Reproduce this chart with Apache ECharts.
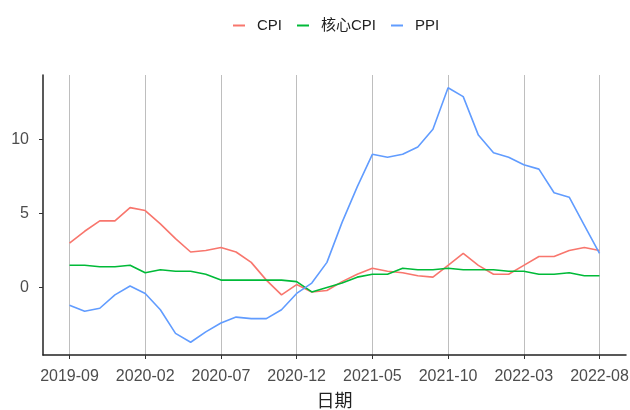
<!DOCTYPE html>
<html>
<head>
<meta charset="utf-8">
<script src="https://cdn.jsdelivr.net/npm/echarts@6/dist/echarts.min.js"></script>
<style>
html,body{margin:0;padding:0;background:#fff;}
#chart{width:630px;height:410px;}
</style>
</head>
<body>
<div id="chart"></div>
<script>
const dates = ['2019-09','2019-10','2019-11','2019-12','2020-01','2020-02','2020-03','2020-04','2020-05','2020-06','2020-07','2020-08','2020-09','2020-10','2020-11','2020-12','2021-01','2021-02','2021-03','2021-04','2021-05','2021-06','2021-07','2021-08','2021-09','2021-10','2021-11','2021-12','2022-01','2022-02','2022-03','2022-04','2022-05','2022-06','2022-07','2022-08'];
const cpi = [3.0,3.8,4.5,4.5,5.4,5.2,4.3,3.3,2.4,2.5,2.7,2.4,1.7,0.5,-0.5,0.2,-0.3,-0.2,0.4,0.9,1.3,1.1,1.0,0.8,0.7,1.5,2.3,1.5,0.9,0.9,1.5,2.1,2.1,2.5,2.7,2.5];
const coreCpi = [1.5,1.5,1.4,1.4,1.5,1.0,1.2,1.1,1.1,0.9,0.5,0.5,0.5,0.5,0.5,0.4,-0.3,0.0,0.3,0.7,0.9,0.9,1.3,1.2,1.2,1.3,1.2,1.2,1.2,1.1,1.1,0.9,0.9,1.0,0.8,0.8];
const ppi = [-1.2,-1.6,-1.4,-0.5,0.1,-0.4,-1.5,-3.1,-3.7,-3.0,-2.4,-2.0,-2.1,-2.1,-1.5,-0.4,0.3,1.7,4.4,6.8,9.0,8.8,9.0,9.5,10.7,13.5,12.9,10.3,9.1,8.8,8.3,8.0,6.4,6.1,4.2,2.3];
const tickLabels = ['2019-09','2020-02','2020-07','2020-12','2021-05','2021-10','2022-03','2022-08'];
const yTicks = [0,5,10];
const seriesNames = ['CPI','核心CPI','PPI'];
const colors = ['#F8766D','#00BA38','#619CFF'];

const allVals = cpi.concat(coreCpi, ppi);
const vMin = Math.min(...allVals), vMax = Math.max(...allVals);
const yPad = (vMax - vMin) * 0.05;
const n = dates.length;
const xPad = (n - 1) * 0.05;
const tickIdx = tickLabels.map(l => dates.indexOf(l));

const chart = echarts.init(document.getElementById('chart'));
const fontFam = '"Liberation Sans", Arial, "Noto Sans CJK SC", sans-serif';
const mk = (name, arr, c) => ({
  name: name, type: 'line', showSymbol: false, symbol: 'none',
  data: arr.map((v, i) => [i, v]),
  lineStyle: {width: 1.6, color: c}, itemStyle: {color: c}
});
chart.setOption({
  animation: false,
  textStyle: {fontFamily: fontFam},
  legend: {
    top: 13, left: 228, itemGap: 15, itemWidth: 12, itemHeight: 2, icon: 'rect',
    textStyle: {fontSize: 15, color: '#222', fontFamily: fontFam, padding: [0,0,0,7]},
    data: [
      {name: seriesNames[0]},
      {name: seriesNames[1], textStyle: {padding: [0,6,0,7]}},
      {name: seriesNames[2]}
    ]
  },
  grid: {left: 43, right: 4, top: 75, bottom: 55, containLabel: false, outerBoundsMode: 'none'},
  xAxis: {
    type: 'value', min: -xPad, max: n - 1 + xPad,
    name: '日期', nameLocation: 'middle', nameGap: 36,
    nameTextStyle: {fontSize: 18, color: '#222', fontFamily: '"Noto Sans CJK SC", sans-serif'},
    axisLine: {show: true, onZero: false, lineStyle: {color: '#222', width: 1.5}},
    axisTick: {show: true, length: 4, lineStyle: {color: '#333', width: 1}, customValues: tickIdx},
    axisLabel: {customValues: tickIdx, formatter: v => dates[Math.round(v)], fontSize: 16, color: '#4D4D4D', margin: 14},
    splitLine: {show: true, lineStyle: {color: '#BEBEBE', width: 1}}
  },
  yAxis: {
    type: 'value', min: vMin - yPad, max: vMax + yPad,
    axisLine: {show: true, onZero: false, lineStyle: {color: '#222', width: 1.5}},
    axisTick: {show: true, length: 4, lineStyle: {color: '#333', width: 1}, customValues: yTicks},
    axisLabel: {customValues: yTicks, fontSize: 16, color: '#4D4D4D', margin: 14},
    splitLine: {show: false}
  },
  series: [mk(seriesNames[0], cpi, colors[0]), mk(seriesNames[1], coreCpi, colors[1]), mk(seriesNames[2], ppi, colors[2])]
});
</script>
</body>
</html>
